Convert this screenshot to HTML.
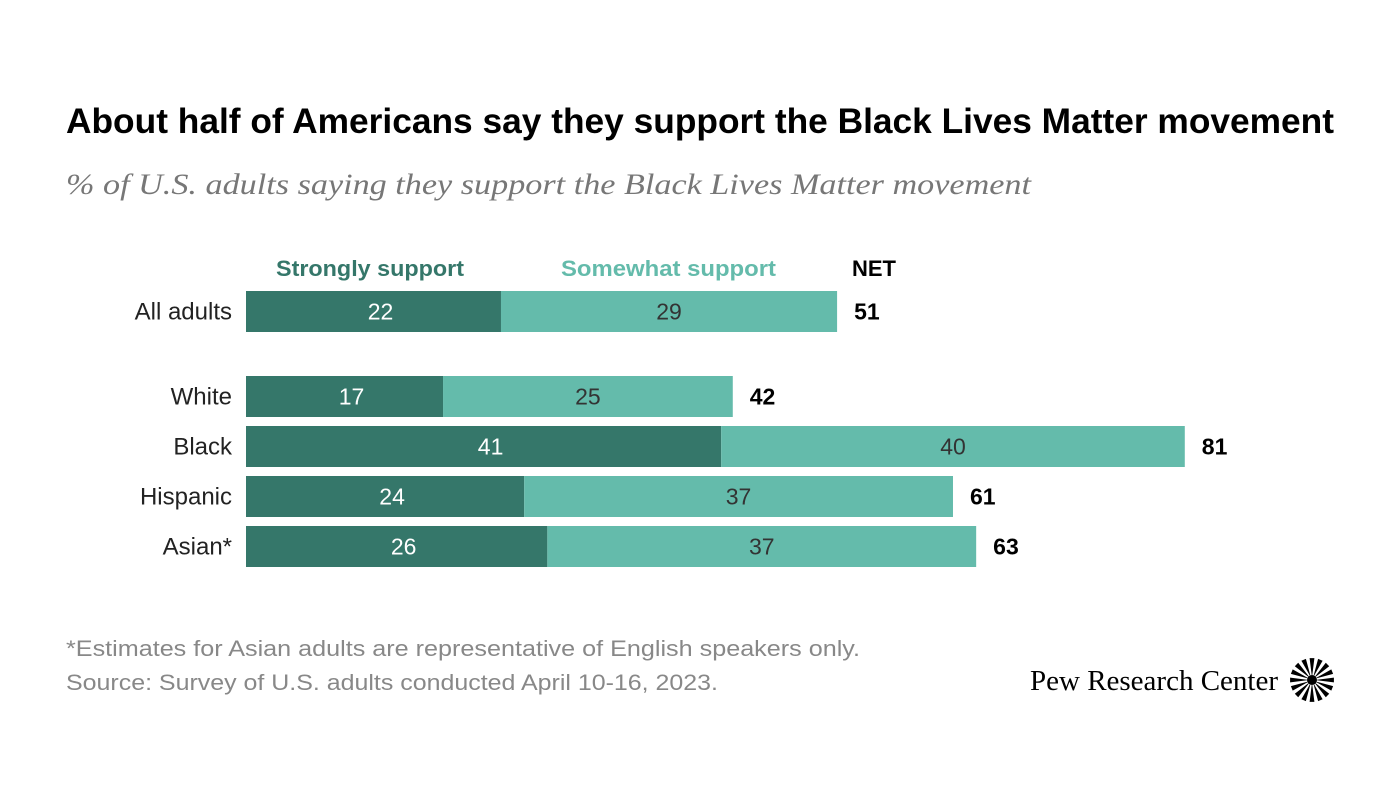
<!DOCTYPE html>
<html><head><meta charset="utf-8"><style>
body{margin:0;background:#fff;width:1400px;height:788px;overflow:hidden;font-family:"Liberation Sans",sans-serif}
</style></head><body>
<svg id="c" width="1400" height="788" xmlns="http://www.w3.org/2000/svg">
<text x="66" y="133" font-family="Liberation Sans, sans-serif" font-weight="bold" font-size="35" fill="#000" textLength="1268" lengthAdjust="spacingAndGlyphs">About half of Americans say they support the Black Lives Matter movement</text>
<text x="66" y="194" font-family="Liberation Serif, serif" font-style="italic" font-size="30" fill="#777" textLength="965" lengthAdjust="spacingAndGlyphs">% of U.S. adults saying they support the Black Lives Matter movement</text>
<text x="276" y="276" font-weight="bold" font-size="22" fill="#35776a" textLength="188" lengthAdjust="spacingAndGlyphs">Strongly support</text>
<text x="561" y="276" font-weight="bold" font-size="22" fill="#64bbab" textLength="215" lengthAdjust="spacingAndGlyphs">Somewhat support</text>
<text x="852" y="276" font-weight="bold" font-size="22" fill="#000" textLength="44" lengthAdjust="spacingAndGlyphs">NET</text>
<g id="bars"></g>
<text x="66" y="656" font-size="22" fill="#888" textLength="794" lengthAdjust="spacingAndGlyphs">*Estimates for Asian adults are representative of English speakers only.</text>
<text x="66" y="690" font-size="22" fill="#888" textLength="652" lengthAdjust="spacingAndGlyphs">Source: Survey of U.S. adults conducted April 10-16, 2023.</text>
<text x="1030" y="690" font-family="Liberation Serif, serif" font-size="29" fill="#000" textLength="248" lengthAdjust="spacingAndGlyphs">Pew Research Center</text>
<g id="logo"></g>
</svg>
<script>
const categories=["All adults","White","Black","Hispanic","Asian*"];
const strongly=[22,17,41,24,26];
const somewhat=[29,25,40,37,37];
const net=[51,42,81,61,63];
const NS="http://www.w3.org/2000/svg";
const x0=246, scale=11.59;
const xs=v=>v*scale;
const rowY=[291,376,426,476,526], bh=41;
const g=document.getElementById('bars');
function mk(t,a,txt){const e=document.createElementNS(NS,t);for(const k in a)e.setAttribute(k,a[k]);if(txt!=null)e.textContent=txt;g.appendChild(e);return e;}
categories.forEach((c,i)=>{
  const y=rowY[i];
  let e=mk('text',{x:232,y:y+bh/2+8,'text-anchor':'end','font-size':24,fill:'#222'},c);
  
  
  const w1=xs(strongly[i]), w2=xs(somewhat[i]);
  e=mk('rect',{x:x0,y:y,width:w1,height:bh,fill:'#35776a'});
  
  
  e=mk('rect',{x:x0+w1,y:y,width:w2,height:bh,fill:'#64bbab'});
  
  
  e=mk('text',{x:x0+w1/2+7,y:y+bh/2+8,'text-anchor':'middle','font-size':23,fill:'#fff'},strongly[i]);
  
  
  e=mk('text',{x:x0+w1+w2/2,y:y+bh/2+8,'text-anchor':'middle','font-size':23,fill:'#333'},somewhat[i]);
  
  
  e=mk('text',{x:x0+w1+w2+17,y:y+bh/2+8,'font-size':23,'font-weight':'bold',fill:'#000'},net[i]);
  
  
});
const lg=document.getElementById('logo');
const cx=1312,cy=680;
let d='';
for(let k=0;k<16;k++){
  const a=k*Math.PI*2/16, w=0.11;
  const p=(r,t)=>[(cx+r*Math.cos(t)).toFixed(1),(cy+r*Math.sin(t)).toFixed(1)];
  const A=p(5,a-w*0.5),B=p(22,a-w),C=p(22,a+w),D=p(5,a+w*0.5);
  d+=`M${A}L${B}L${C}L${D}Z`;
}
const pth=document.createElementNS(NS,'path');pth.setAttribute('d',d);pth.setAttribute('fill','#000');lg.appendChild(pth);
const cc=document.createElementNS(NS,'circle');cc.setAttribute('cx',cx);cc.setAttribute('cy',cy);cc.setAttribute('r',5);cc.setAttribute('fill','#000');lg.appendChild(cc);
</script>
</body></html>
